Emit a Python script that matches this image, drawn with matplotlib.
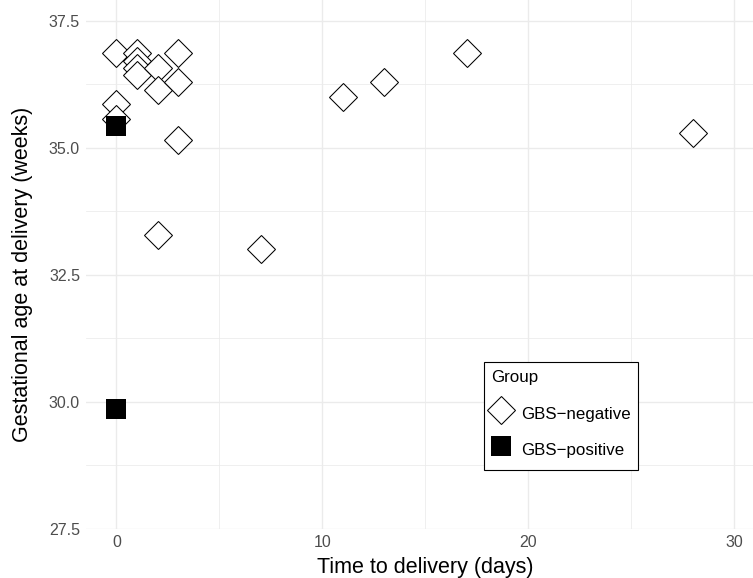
import matplotlib
matplotlib.use("Agg")
import matplotlib.pyplot as plt
from matplotlib.ticker import MultipleLocator

# Days to delivery and gestational age (weeks) per group
neg_days = [0, 0, 0, 1, 1, 1, 1, 2, 2, 2, 3, 3, 3, 7, 11, 13, 17, 28]
neg_ga = [36.857, 35.857, 35.571, 36.857, 36.714, 36.571, 36.429,
          36.571, 36.143, 33.286, 36.857, 36.286, 35.143,
          33.0, 36.0, 36.286, 36.857, 35.286]
pos_days = [0, 0]
pos_ga = [35.429, 29.857]

x_ticks = [0, 10, 20, 30]
y_ticks = [27.5, 30.0, 32.5, 35.0, 37.5]
labels = ["GBS\u2212negative", "GBS\u2212positive"]

plt.rcParams['font.family'] = ['Liberation Sans', 'DejaVu Sans']

W, H = 753, 578
fig = plt.figure(figsize=(W / 100, H / 100), dpi=100)
# axes run a bit past the figure edges (right/top), like the cropped original
ax = fig.add_axes([85.6 / W, (H - 528.5) / H, 679.8 / W, 533.2 / H])

ax.plot(neg_days, neg_ga, linestyle="none", marker="D", markersize=14,
        markerfacecolor="white", markeredgecolor="black",
        markeredgewidth=0.75, label=labels[0], zorder=3)
ax.plot(pos_days, pos_ga, linestyle="none", marker="s", markersize=14,
        markerfacecolor="black", markeredgecolor="black",
        markeredgewidth=0, label=labels[1], zorder=3)

ax.set_xlim(-1.5, 31.5)
ax.set_ylim(27.5, 38.0)
ax.set_xticks(x_ticks)
ax.set_yticks(y_ticks)
ax.set_yticklabels([f"{v:.1f}" for v in y_ticks])
ax.xaxis.set_minor_locator(MultipleLocator(5))
ax.yaxis.set_minor_locator(MultipleLocator(1.25))

ax.grid(which="major", color="#ebebeb", linewidth=1.0)
ax.grid(which="minor", color="#ebebeb", linewidth=0.55)
ax.set_axisbelow(True)
for s in ax.spines.values():
    s.set_visible(False)
ax.tick_params(which="both", length=0)
ax.tick_params(axis="x", pad=5, labelsize=11.5, labelcolor="#4d4d4d")
ax.tick_params(axis="y", pad=4, labelsize=11.5, labelcolor="#4d4d4d")

ax.set_xlabel("Time to delivery (days)", fontsize=15.5, labelpad=5)
ax.set_ylabel("Gestational age at delivery (weeks)", fontsize=15.5)
# ylabel would sit relative to the oversized axes; pin it to the visible panel
ax.yaxis.set_label_coords(33 / W, (H - 274) / H, transform=fig.transFigure)

leg = ax.legend(title="Group", loc="upper left",
                bbox_to_anchor=(484 / W, 1 - 362 / H),
                bbox_transform=fig.transFigure, borderaxespad=0,
                fontsize=12.2, title_fontsize=12.2, fancybox=False,
                edgecolor="black", framealpha=1, labelspacing=0.6,
                handleheight=2.0, handletextpad=0.62, borderpad=0.45,
                handlelength=1.1, alignment="left")
leg.get_frame().set_linewidth(0.8)
# a little more room between the title and the first entry
leg._legend_box.sep = 0.6 * 12.2 + 4.0

fig.savefig("out.png", dpi=100)
